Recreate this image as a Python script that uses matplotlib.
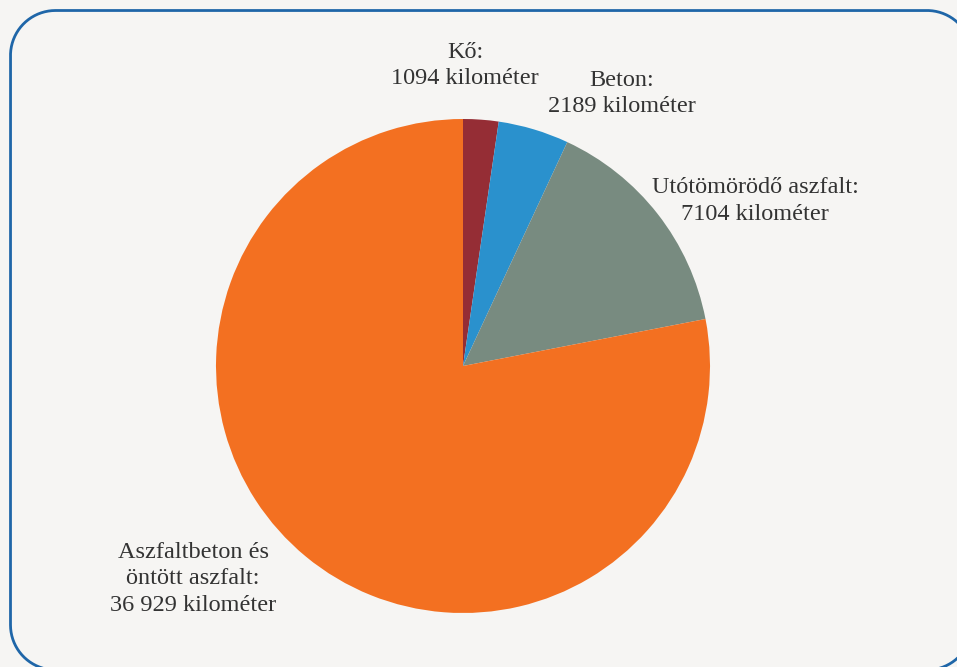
import numpy as np
import matplotlib.pyplot as plt

labels = ["Kő:\n1094 kilométer",
          "Beton:\n2189 kilométer",
          "Utótömörödő aszfalt:\n7104 kilométer",
          "Aszfaltbeton és\nöntött aszfalt:\n36 929 kilométer"]
values = [1094, 2189, 7104, 36929]
colors = ["#952d35", "#2a91cd", "#788b80", "#f37021"]
label_pos = [(0.008, 1.215), (0.644, 1.105), (1.182, 0.668), (-1.093, -0.862)]

W, H = 957, 667
fig = plt.figure(figsize=(W / 100, H / 100), dpi=100)
fig.patch.set_facecolor("#f6f5f3")


def rounded_rect(x0, y0, x1, y1, rad, n=40):
    # corner centres and arc angles, traced counterclockwise
    corners = [(x1 - rad, y1 - rad, 0), (x0 + rad, y1 - rad, 90),
               (x0 + rad, y0 + rad, 180), (x1 - rad, y0 + rad, 270)]
    xs, ys = [], []
    for ccx, ccy, a0 in corners:
        t = np.radians(np.linspace(a0, a0 + 90, n))
        xs.extend(ccx + rad * np.cos(t))
        ys.extend(ccy + rad * np.sin(t))
    xs.append(xs[0])
    ys.append(ys[0])
    return xs, ys


# background axes in pixel units (y measured from top) for the frame
bg = fig.add_axes([0, 0, 1, 1])
bg.set_xlim(0, W)
bg.set_ylim(H, 0)
bg.axis("off")
fx, fy = rounded_rect(10.5, 10.5, 972, 670, 45)
bg.plot(fx, fy, color="#1f66a8", lw=2.0, solid_joinstyle="round")

cx, cy, r = 463, H - 366, 247
ax = fig.add_axes([(cx - r) / W, (cy - r) / H, 2 * r / W, 2 * r / H])
ax.pie(values, colors=colors, startangle=90, counterclock=False, radius=1,
       wedgeprops=dict(linewidth=0))
ax.set_xlim(-1, 1)
ax.set_ylim(-1, 1)
ax.set_aspect("equal")
ax.axis("off")

for text, (x, y) in zip(labels, label_pos):
    ax.text(x, y, text, ha="center", va="center", fontsize=17.5,
            family="Liberation Serif", color="#333333", linespacing=1.32,
            clip_on=False)

fig.savefig("out.png", dpi=100, facecolor=fig.get_facecolor())
